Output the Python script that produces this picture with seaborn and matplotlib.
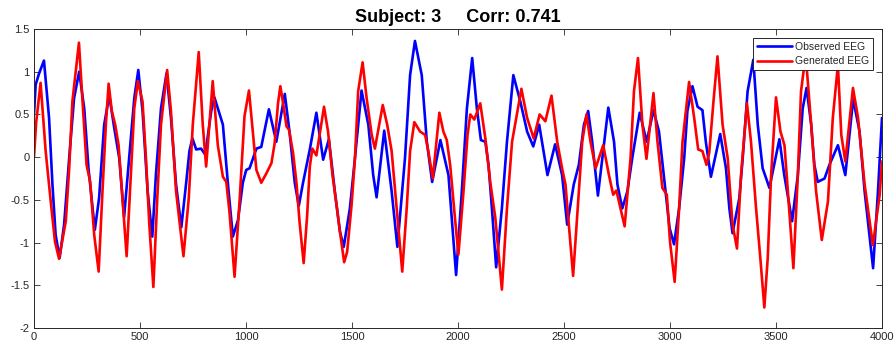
import numpy as np
import pandas as pd
import matplotlib
matplotlib.use("Agg")
import matplotlib.pyplot as plt
import seaborn as sns

# ---- data ----
obs_x = [0, 8, 24, 47, 71, 87, 102, 121, 142, 166, 189, 213, 237, 257, 287, 307, 331, 355,
         378, 402, 425, 449, 473, 492, 512, 536, 558, 575, 599, 625, 646, 670, 695, 717, 733,
         747, 765, 788, 808, 836, 851, 891, 915, 938, 962, 985, 1001, 1017, 1049, 1072, 1108,
         1143, 1183, 1206, 1230, 1249, 1269, 1301, 1332, 1364, 1391, 1419, 1443, 1461, 1490,
         1514, 1545, 1577, 1600, 1616, 1652, 1687, 1714, 1750, 1774, 1797, 1829, 1853, 1878,
         1917, 1955, 1979, 1991, 2018, 2042, 2067, 2089, 2108, 2129, 2144, 2160, 2180, 2207,
         2231, 2261, 2294, 2326, 2355, 2383, 2422, 2458, 2491, 2515, 2546, 2570, 2594, 2614,
         2633, 2660, 2709, 2736, 2752, 2775, 2799, 2822, 2857, 2890, 2922, 2948, 2970, 2998,
         3019, 3043, 3067, 3082, 3106, 3130, 3153, 3169, 3193, 3237, 3264, 3280, 3295, 3327,
         3343, 3366, 3393, 3414, 3437, 3469, 3516, 3539, 3576, 3603, 3626, 3644, 3666, 3681,
         3697, 3729, 3752, 3792, 3827, 3864, 3894, 3918, 3958, 3981, 4000]
obs_y = [0.50, 0.85, 0.98, 1.13, 0.46, -0.32, -0.91, -1.18, -0.79, -0.01, 0.69, 1.00, 0.57,
         -0.13, -0.85, -0.48, 0.38, 0.72, 0.35, -0.01, -0.70, -0.01, 0.69, 1.02, 0.54, -0.40,
         -0.93, -0.21, 0.57, 0.98, 0.46, -0.32, -0.82, -0.32, 0.07, 0.22, 0.09, 0.10, 0.03,
         0.54, 0.70, 0.38, -0.32, -0.93, -0.74, -0.30, -0.15, -0.13, 0.10, 0.12, 0.56, 0.18,
         0.74, 0.28, -0.30, -0.57, -0.30, 0.09, 0.52, -0.03, 0.21, -0.40, -0.87, -1.05, -0.60,
         -0.01, 0.78, 0.38, -0.21, -0.47, 0.31, -0.40, -1.05, -0.01, 0.96, 1.36, 0.96, 0.18,
         -0.29, 0.20, -0.21, -0.99, -1.38, -0.40, 0.57, 1.16, 0.57, 0.20, 0.18, -0.09, -0.60,
         -1.29, -0.60, 0.18, 0.96, 0.65, 0.30, 0.125, 0.38, -0.21, 0.15, -0.21, -0.79, -0.32,
         -0.09, 0.38, 0.54, 0.18, -0.45, 0.58, 0.18, -0.32, -0.60, -0.40, -0.01, 0.52, 0.18,
         0.55, 0.30, -0.20, -0.83, -1.02, -0.60, -0.01, 0.54, 0.83, 0.59, 0.55, 0.18, -0.23,
         0.27, -0.13, -0.60, -0.89, -0.48, -0.01, 0.77, 1.14, 0.38, -0.13, -0.36, 0.21, -0.21,
         -0.75, -0.21, 0.57, 0.81, 0.38, -0.09, -0.29, -0.25, -0.09, 0.14, -0.21, 0.68, 0.30,
         -0.40, -1.30, -0.40, 0.46]

gen_x = [0, 10, 31, 55, 79, 99, 118, 150, 166, 181, 212, 229, 248, 265, 284, 305, 323, 339,
         352, 367, 383, 399, 415, 437, 457, 473, 490, 512, 528, 544, 563, 583, 599, 628, 646,
         670, 705, 730, 749, 777, 796, 812, 843, 867, 891, 907, 922, 946, 970, 993, 1014, 1033,
         1049, 1072, 1096, 1120, 1135, 1151, 1162, 1175, 1191, 1203, 1222, 1238, 1253, 1272,
         1288, 1301, 1313, 1332, 1368, 1387, 1408, 1427, 1443, 1463, 1477, 1498, 1514, 1529,
         1550, 1569, 1593, 1608, 1645, 1666, 1687, 1711, 1737, 1758, 1774, 1794, 1821, 1845,
         1860, 1881, 1912, 1931, 1947, 1963, 1987, 2002, 2026, 2045, 2058, 2077, 2105, 2129,
         2152, 2176, 2207, 2231, 2255, 2299, 2326, 2357, 2385, 2412, 2441, 2468, 2491, 2507,
         2523, 2543, 2570, 2586, 2606, 2625, 2649, 2685, 2712, 2732, 2747, 2786, 2814, 2830,
         2849, 2870, 2889, 2922, 2941, 2964, 2985, 3000, 3022, 3043, 3059, 3090, 3114, 3133,
         3153, 3172, 3185, 3205, 3224, 3248, 3272, 3295, 3316, 3335, 3363, 3382, 3406, 3426,
         3445, 3461, 3477, 3500, 3521, 3540, 3556, 3582, 3603, 3618, 3640, 3666, 3689, 3716,
         3745, 3768, 3792, 3808, 3827, 3863, 3887, 3918, 3957, 3989, 4000]
gen_y = [0.00, 0.40, 0.87, 0.07, -0.52, -0.99, -1.19, -0.75, -0.13, 0.65, 1.34, 0.65, -0.09,
         -0.29, -0.91, -1.34, -0.40, 0.38, 0.86, 0.54, 0.38, 0.14, -0.40, -1.16, -0.21, 0.57,
         0.89, 0.65, -0.01, -0.79, -1.52, -0.40, 0.38, 1.02, 0.54, -0.40, -1.16, -0.48, 0.38,
         1.23, 0.38, -0.11, 0.89, 0.14, -0.23, -0.29, -0.64, -1.40, -0.50, 0.48, 0.78, 0.28,
         -0.15, -0.30, -0.19, -0.07, 0.16, 0.63, 0.83, 0.63, 0.36, 0.32, 0.05, -0.30, -0.77,
         -1.24, -0.70, -0.11, 0.10, 0.02, 0.59, 0.30, -0.21, -0.56, -0.87, -1.23, -1.11, -0.56,
         -0.01, 0.77, 1.11, 0.69, 0.26, 0.10, 0.61, 0.38, 0.07, -0.60, -1.34, -0.60, 0.07,
         0.41, 0.30, 0.26, 0.07, -0.25, 0.52, 0.30, 0.20, -0.09, -0.75, -1.14, -0.40, 0.26,
         0.50, 0.44, 0.63, 0.22, -0.29, -0.71, -1.55, -0.60, 0.18, 0.80, 0.46, 0.22, 0.50,
         0.42, 0.72, 0.18, -0.13, -0.32, -0.79, -1.39, -0.40, 0.18, 0.50, 0.18, -0.13, 0.14,
         -0.21, -0.44, -0.39, -0.81, -0.01, 0.77, 1.16, 0.38, -0.02, 0.75, 0.18, -0.36, -0.44,
         -0.99, -1.46, -0.60, 0.18, 0.88, 0.46, 0.09, 0.07, -0.09, 0.05, 0.65, 1.18, 0.38,
         -0.01, -0.79, -1.07, -0.21, 0.63, 0.18, -0.60, -1.18, -1.76, -1.18, -0.21, 0.70,
         0.30, 0.14, -0.40, -1.30, -0.21, 0.77, 1.20, 0.38, -0.40, -0.97, -0.52, 0.46, 1.08,
         0.26, -0.05, 0.81, 0.46, -0.32, -1.03, -0.44, -0.05]

series_names = ["Observed EEG", "Generated EEG"]
title_text = "Subject: 3     Corr: 0.741"
x_ticks = [0, 500, 1000, 1500, 2000, 2500, 3000, 3500, 4000]
y_ticks = [-2, -1.5, -1, -0.5, 0, 0.5, 1, 1.5]
y_tick_labels = ["-2", "-1.5", "-1", "-0.5", "0", "0.5", "1", "1.5"]

df = pd.concat([
    pd.DataFrame({"t": obs_x, "v": obs_y, "series": series_names[0]}),
    pd.DataFrame({"t": gen_x, "v": gen_y, "series": series_names[1]}),
], ignore_index=True)

sns.set_theme(style="white")
plt.rcParams["font.family"] = ["Liberation Sans", "DejaVu Sans"]
plt.rcParams["axes.edgecolor"] = "#262626"
plt.rcParams["lines.solid_joinstyle"] = "round"
plt.rcParams["lines.solid_capstyle"] = "round"

fig = plt.figure(figsize=(8.96, 3.49), dpi=100)
ax = fig.add_axes([34 / 896, 1 - 328 / 349, (882 - 34) / 896, (328 - 29) / 349])

sns.lineplot(data=df, x="t", y="v", hue="series", hue_order=series_names,
             palette=["#0000ff", "#ff0000"], linewidth=1.9, ax=ax, sort=False,
             estimator=None)
for ln in ax.get_lines():
    ln.set_solid_joinstyle("round")

ax.set_xlim(0, 4000)
ax.set_ylim(-2, 1.5)
ax.set_xticks(x_ticks)
ax.set_xticklabels([str(t) for t in x_ticks])
ax.set_yticks(y_ticks)
ax.set_yticklabels(y_tick_labels)
ax.set_xlabel("")
ax.set_ylabel("")
ax.tick_params(axis="both", which="both", direction="in", length=4, width=0.6,
               top=True, right=True, bottom=True, left=True, labelsize=8,
               colors="#262626", pad=3)
for s in ax.spines.values():
    s.set_linewidth(0.7)
    s.set_color("#262626")

ax.set_title(title_text, fontsize=13, fontweight="bold", pad=5, color="#000000")

leg = ax.legend(loc="upper right", fontsize=7.5, frameon=True, fancybox=False,
                edgecolor="#262626", framealpha=1, handlelength=3.4,
                borderpad=0.35, labelspacing=0.45, handletextpad=0.3,
                borderaxespad=0.85)
leg.get_frame().set_linewidth(0.7)

fig.savefig("out.png", dpi=100)
